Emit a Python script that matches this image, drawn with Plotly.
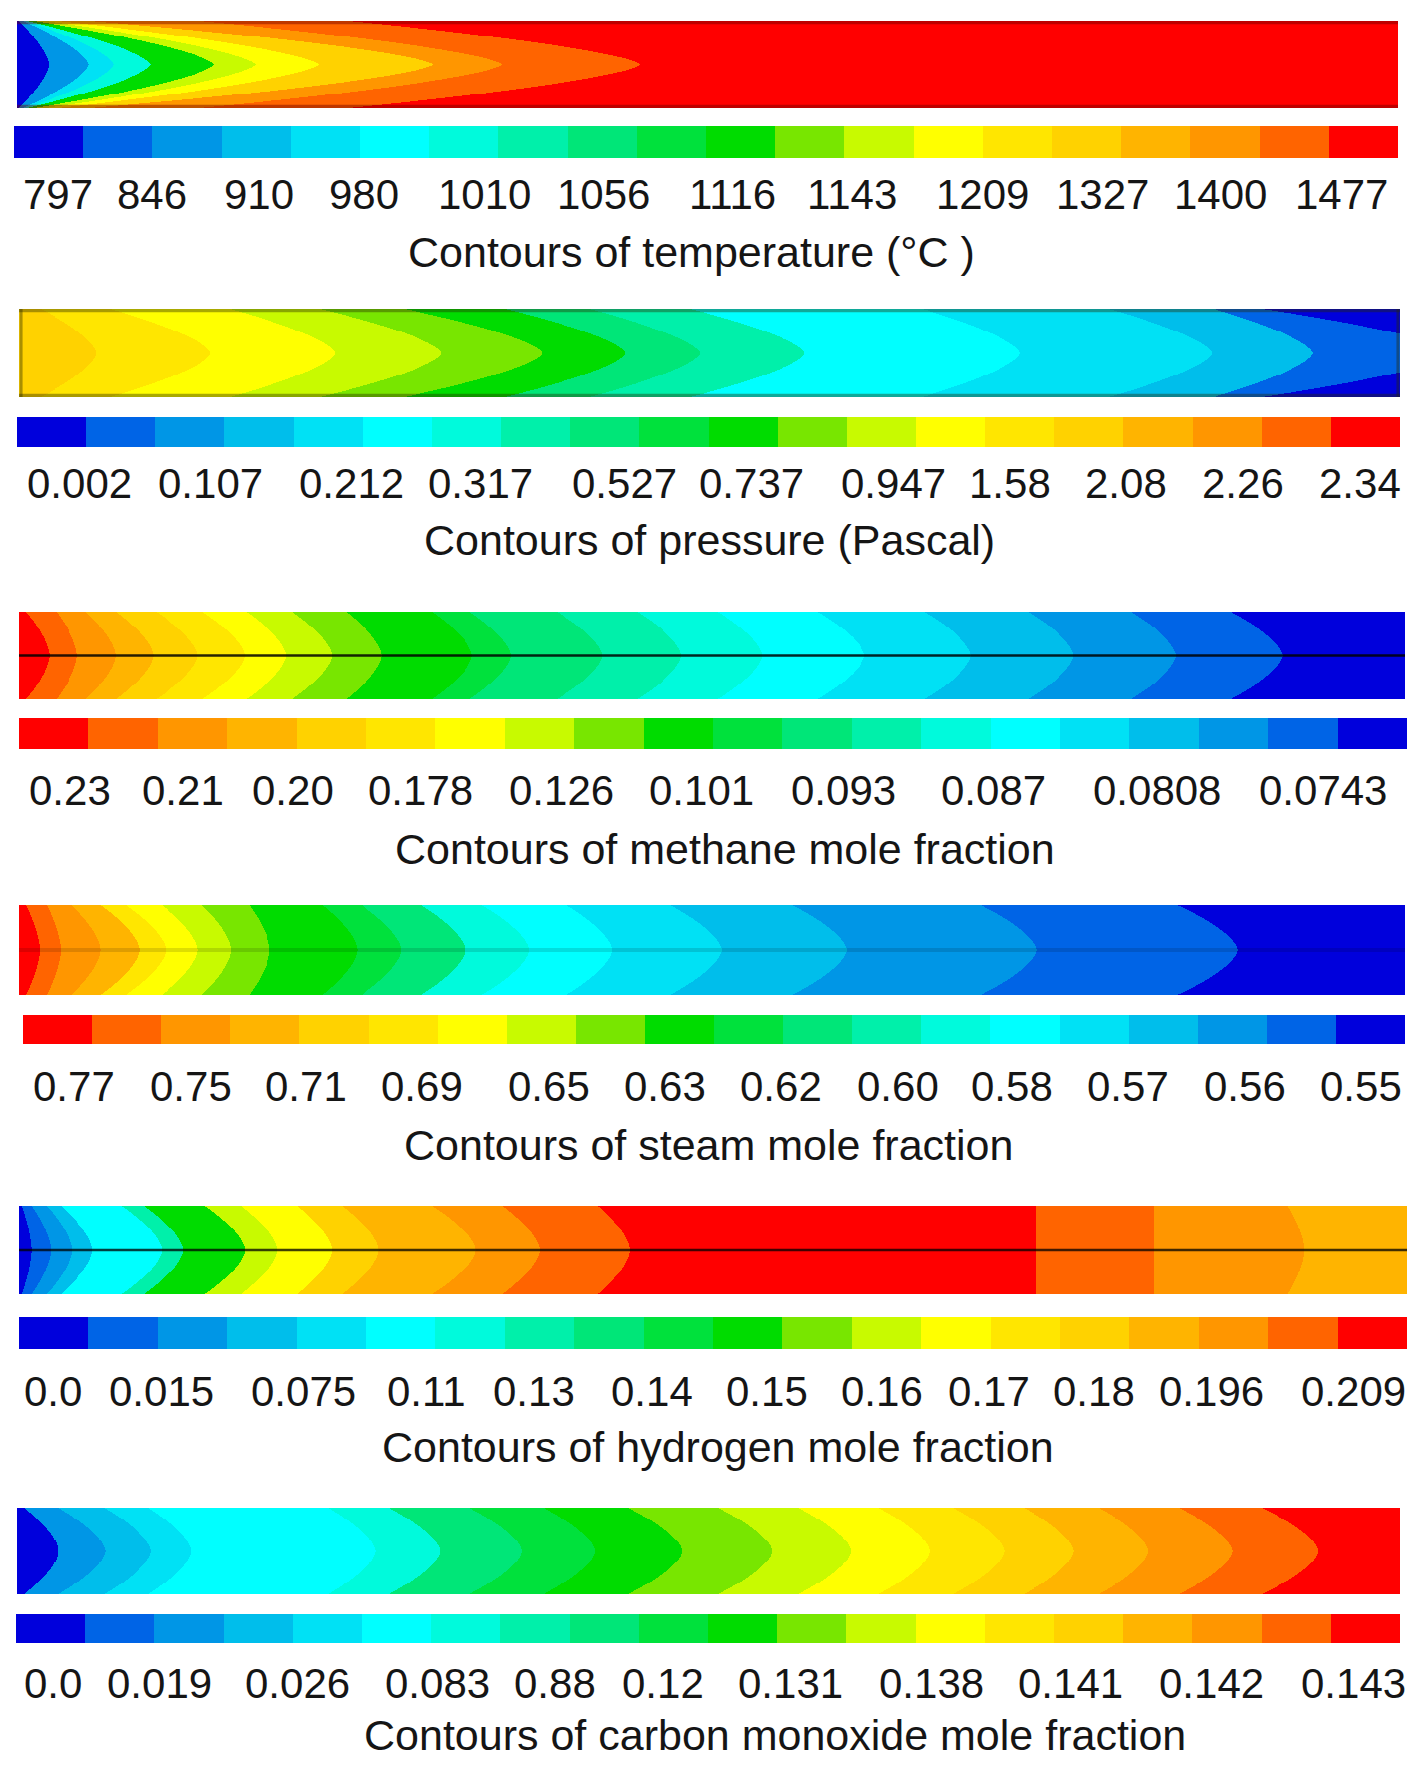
import numpy as np
import plotly.graph_objects as go

W, H = 1428, 1780

# 20-band Fluent-like palette (index 0 = lowest / blue, 19 = highest / red)
PALETTE = ["#0000DC", "#0064E6", "#0096E6", "#00BEEB", "#00E1F5",
           "#00FFFF", "#00FADC", "#00F0AA", "#00E678", "#00E13C",
           "#00DC00", "#78E600", "#C8FA00", "#FFFF00", "#FFE600",
           "#FFD200", "#FFB400", "#FF9600", "#FF6400", "#FF0000"]

# ---------------- data (axial positions in % of channel length) ----------------
temp_bands = [0, 2, 4, 6, 10, 12, 13, 15, 17, 18, 19]
temp_center = [2.3, 5.2, 7.0, 9.7, 14.3, 17.3, 21.9, 30.2, 35.2, 45.2]
temp_wall = [0.1, 0.4, 0.6, 0.7, 1.2, 2.0, 3.0, 5.2, 13.2, 24.0]
temp_labels = ["797", "846", "910", "980", "1010", "1056", "1116", "1143",
               "1209", "1327", "1400", "1477"]

pres_bands = [15, 14, 13, 12, 11, 10, 8, 7, 5, 4, 3, 1, 0]
pres_center = [5.6, 13.9, 22.9, 30.6, 37.9, 43.9, 49.3, 56.9, 72.5, 86.4, 93.7, 104.0]
pres_wall = [1.6, 6.6, 15.3, 21.8, 27.9, 35.2, 41.3, 48.6, 65.4, 78.9, 86.5, 90.0]
pres_labels = ["0.002", "0.107", "0.212", "0.317", "0.527", "0.737", "0.947",
               "1.58", "2.08", "2.26", "2.34"]

meth_bands = [19, 18, 17, 16, 15, 14, 13, 12, 11, 10, 9, 8, 7, 6, 5, 4, 3, 2, 1, 0]
meth_center = [2.2, 4.2, 7.0, 9.7, 12.9, 16.3, 19.3, 22.6, 26.2, 32.7, 35.5, 42.1,
               47.8, 53.6, 61.0, 68.7, 76.1, 83.5, 91.2]
meth_wall = [0.5, 2.7, 4.8, 7.0, 9.9, 13.2, 16.4, 19.7, 23.6, 29.8, 32.5, 38.8,
             44.6, 50.4, 57.6, 65.3, 72.8, 80.2, 87.4]
meth_labels = ["0.23", "0.21", "0.20", "0.178", "0.126", "0.101", "0.093",
               "0.087", "0.0808", "0.0743"]

steam_bands = [19, 18, 17, 16, 14, 13, 12, 11, 10, 9, 8, 6, 5, 4, 3, 2, 1, 0]
steam_center = [1.5, 3.0, 5.9, 8.7, 10.6, 12.9, 15.3, 18.1, 24.4, 27.6, 32.2, 36.8,
                42.8, 50.7, 59.7, 73.4, 87.9]
steam_wall = [0.5, 2.0, 3.8, 5.9, 7.7, 10.3, 13.2, 16.6, 21.9, 24.7, 29.0, 33.4,
              39.5, 47.0, 55.8, 69.4, 83.6]
steam_labels = ["0.77", "0.75", "0.71", "0.69", "0.65", "0.63", "0.62", "0.60",
                "0.58", "0.57", "0.56", "0.55"]

h2_bands = [0, 1, 2, 3, 5, 7, 10, 12, 13, 15, 16, 17, 18, 19, 18, 17, 16]
h2_center = [0.9, 2.3, 3.8, 5.3, 10.3, 11.8, 16.3, 18.6, 22.6, 25.9, 32.9, 37.5,
             44.0, 73.3, 81.8, 92.6]
h2_wall = [0.2, 0.9, 2.0, 3.0, 7.4, 9.0, 13.4, 16.0, 20.0, 23.3, 29.8, 34.8,
           41.7, 73.3, 81.8, 91.4]
h2_labels = ["0.0", "0.015", "0.075", "0.11", "0.13", "0.14", "0.15", "0.16",
             "0.17", "0.18", "0.196", "0.209"]

co_bands = [0, 2, 3, 4, 5, 6, 8, 9, 10, 11, 12, 13, 14, 15, 16, 17, 18, 19]
co_center = [3.0, 6.4, 9.7, 12.6, 25.9, 30.6, 36.5, 41.8, 48.1, 54.6, 60.3, 66.0,
             71.4, 76.4, 81.8, 87.9, 94.1]
co_wall = [0.5, 3.0, 6.3, 9.5, 22.5, 26.9, 32.7, 38.1, 44.2, 50.7, 56.5, 62.3,
           67.7, 72.8, 78.2, 84.0, 90.0]
co_labels = ["0.0", "0.019", "0.026", "0.083", "0.88", "0.12", "0.131", "0.138",
             "0.141", "0.142", "0.143"]

titles = ["Contours of temperature (°C )", "Contours of pressure (Pascal)",
          "Contours of methane mole fraction", "Contours of steam mole fraction",
          "Contours of hydrogen mole fraction",
          "Contours of carbon monoxide mole fraction"]

# ---------------- layout (pixel boxes, styles) ----------------
panels = [
    dict(bands=temp_bands, center=temp_center, wall=temp_wall, labels=temp_labels,
         p=1.5, rev=False, field=(17, 1398, 21, 108), cbar=(14, 1398, 126, 158),
         label_y=195, label_px=[58, 152, 259, 364, 484, 603, 732, 852, 982, 1102, 1220, 1341],
         title_xy=(691, 252), edge="rgba(110,0,0,0.45)", mid=None),
    dict(bands=pres_bands, center=pres_center, wall=pres_wall, labels=pres_labels,
         p=1.5, rev=False, field=(19, 1400, 309, 397), cbar=(17, 1400, 417, 447),
         label_y=484, label_px=[79, 210, 351, 480, 624, 751, 893, 1010, 1126, 1243, 1360],
         title_xy=(709, 540), edge="rgba(40,40,0,0.40)", mid=None),
    dict(bands=meth_bands, center=meth_center, wall=meth_wall, labels=meth_labels,
         p=1.6, rev=True, field=(19, 1405, 612, 699), cbar=(19, 1407, 718, 749),
         label_y=790, label_px=[70, 183, 293, 420, 561, 701, 843, 993, 1157, 1323],
         title_xy=(725, 849), edge=None, mid=("rgba(0,0,0,0.85)", 2.5)),
    dict(bands=steam_bands, center=steam_center, wall=steam_wall, labels=steam_labels,
         p=1.6, rev=True, field=(19, 1405, 905, 995), cbar=(23, 1405, 1015, 1044),
         label_y=1086, label_px=[74, 191, 306, 422, 549, 665, 781, 898, 1012, 1128, 1245, 1361],
         title_xy=(708, 1145), edge=None, mid=("rgba(0,0,0,0.13)", 4)),
    dict(bands=h2_bands, center=h2_center, wall=h2_wall, labels=h2_labels,
         p=1.6, rev=False, field=(19, 1407, 1206, 1294), cbar=(19, 1407, 1317, 1349),
         label_y=1391, label_px=[53, 161, 303, 426, 534, 652, 767, 882, 989, 1094, 1211, 1353],
         title_xy=(718, 1447), edge=None, mid=("rgba(0,0,0,0.75)", 2.5)),
    dict(bands=co_bands, center=co_center, wall=co_wall, labels=co_labels,
         p=1.6, rev=False, field=(17, 1400, 1508, 1594), cbar=(16, 1400, 1614, 1643),
         label_y=1683, label_px=[53, 159, 297, 437, 555, 663, 790, 931, 1070, 1211, 1353],
         title_xy=(775, 1735), edge=None, mid=None),
]

FONT = "Liberation Sans, Arial, sans-serif"
TXT = "#151515"
FS_LABEL = 42
FS_TITLE = 43

colorscale = []
for k, c in enumerate(PALETTE):
    colorscale.append([k / 20, c])
    colorscale.append([(k + 1) / 20, c])

NX, NY = 1400, 90
xs = (np.arange(NX) + 0.5) / NX * 100.0
ys = -1 + (np.arange(NY) + 0.5) * 2.0 / NY


def build_field(bands, center, wall, p):
    r = np.abs(ys)[:, None]
    z = np.full((NY, NX), float(bands[-1]))
    done = np.zeros((NY, NX), bool)
    for b, c, w in zip(bands[:-1], center, wall):
        bound = w + (c - w) * (1 - r ** p)
        m = (xs[None, :] < bound) & ~done
        z[m] = b
        done |= m
    return z


fig = go.Figure()
layout = dict(width=W, height=H, margin=dict(l=0, r=0, t=0, b=0),
              paper_bgcolor="white", plot_bgcolor="white", showlegend=False)
annotations = []
shapes = []

for i, P in enumerate(panels):
    na, nb = 2 * i + 1, 2 * i + 2
    xa = "x" if na == 1 else f"x{na}"
    ya = "y" if na == 1 else f"y{na}"
    xb, yb = f"x{nb}", f"y{nb}"

    z = build_field(P["bands"], P["center"], P["wall"], P["p"])
    fig.add_trace(go.Heatmap(z=z, x=xs, y=ys, colorscale=colorscale, zmin=-0.5, zmax=19.5,
                             showscale=False, hoverinfo="skip", xaxis=xa, yaxis=ya))
    if P["mid"]:
        col, wd = P["mid"]
        fig.add_trace(go.Scatter(x=[0, 100], y=[0, 0], mode="lines",
                                 line=dict(color=col, width=wd),
                                 hoverinfo="skip", xaxis=xa, yaxis=ya))
    order = list(range(19, -1, -1)) if P["rev"] else list(range(20))
    fig.add_trace(go.Heatmap(z=[order], x=list(range(20)), y=[0], colorscale=colorscale,
                             zmin=-0.5, zmax=19.5, showscale=False, hoverinfo="skip",
                             xaxis=xb, yaxis=yb))

    l, r, t, b = P["field"]
    layout["xaxis" if na == 1 else f"xaxis{na}"] = dict(
        domain=[l / W, r / W], range=[0, 100], visible=False, fixedrange=True,
        anchor=ya)
    layout["yaxis" if na == 1 else f"yaxis{na}"] = dict(
        domain=[1 - b / H, 1 - t / H], range=[-1, 1], visible=False, fixedrange=True,
        anchor=xa)
    cl, cr, ct, cb = P["cbar"]
    layout[f"xaxis{nb}"] = dict(domain=[cl / W, cr / W], range=[-0.5, 19.5], visible=False,
                                fixedrange=True, anchor=yb)
    layout[f"yaxis{nb}"] = dict(domain=[1 - cb / H, 1 - ct / H], range=[-0.5, 0.5],
                                visible=False, fixedrange=True, anchor=xb)

    if P["edge"]:
        for yy in (-0.97, 0.97):
            shapes.append(dict(type="line", xref=xa, yref=ya, x0=0, x1=100, y0=yy, y1=yy,
                               line=dict(color=P["edge"], width=4)))
        if i == 1:
            for xx in (0.15, 99.85):
                shapes.append(dict(type="line", xref=xa, yref=ya, x0=xx, x1=xx, y0=-1, y1=1,
                                   line=dict(color=P["edge"], width=3)))

    for txt, px in zip(P["labels"], P["label_px"]):
        u = (px - cl) / (cr - cl) * 20 - 0.5
        annotations.append(dict(text=txt, x=u, xref=xb, y=1 - P["label_y"] / H, yref="paper",
                                xanchor="center", yanchor="middle", showarrow=False,
                                font=dict(family=FONT, size=FS_LABEL, color=TXT)))
    tx, ty = P["title_xy"]
    annotations.append(dict(text=titles[i], x=tx / W, xref="paper", y=1 - ty / H, yref="paper",
                            xanchor="center", yanchor="middle", showarrow=False,
                            font=dict(family=FONT, size=FS_TITLE, color=TXT)))

layout["annotations"] = annotations
layout["shapes"] = shapes
fig.update_layout(**layout)
fig.write_html("out.html", config={"displayModeBar": False},
               post_script="document.body.style.margin='0';document.body.style.padding='0';")
